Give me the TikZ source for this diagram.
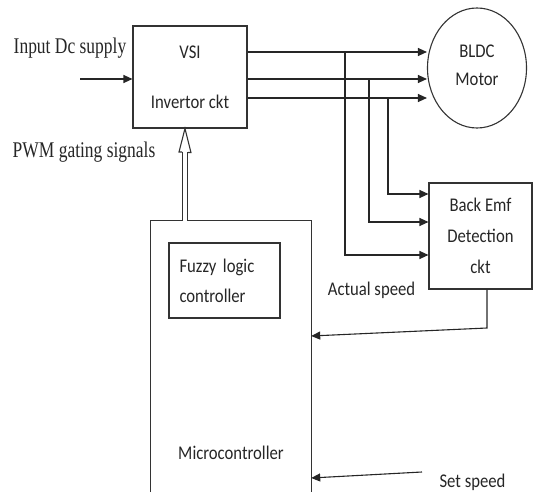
\documentclass[tikz,border=0pt]{standalone}
\usepackage{fontspec}
\setmainfont[FakeStretch=0.78]{Liberation Serif}
\newfontfamily\carlito[FakeStretch=0.86]{Carlito}
\usetikzlibrary{arrows.meta,shapes.geometric,calc}

\begin{document}
\begin{tikzpicture}[
  x=1pt,y=-1pt,
  every node/.style={font=\carlito\fontsize{19.4}{20}\selectfont,align=center,inner sep=0pt,text=black!85},
  frame/.style={draw=black!80,line width=1.1pt},
  blk/.style={frame,rectangle},
  disc/.style={frame,ellipse},
  lbl/.style={font=\fontsize{22.4}{24}\selectfont,anchor=base},
  arr/.style={-{Triangle[length=9pt,width=8pt]},line width=1.1pt,draw=black!85}
]
\useasboundingbox (0,0) rectangle (533,502);

% blocks
\node[blk,minimum width=114,minimum height=102] (vsi) at (190,77) {VSI\\[30pt]Invertor ckt};
\node[disc,minimum width=99,minimum height=120] (motor) at (477,68)
  {\raisebox{5pt}{\begin{tabular}{@{}c@{}}BLDC\\[8pt]Motor\end{tabular}}};
\node[blk,minimum width=103,minimum height=106] (emf) at (480.5,236) {Back Emf\\[11pt]Detection\\[11pt]ckt};
\node[blk,minimum width=111,minimum height=75,text width=90pt,align=left] (fuzzy) at (224.5,280.5) {Fuzzy logic\\[10pt]controller};
\node[minimum width=160,minimum height=271] (mc) at (231,356.5) {};
\draw[frame] (mc.south west) -- (mc.north west) -- (mc.north east) -- (mc.south east);
\node[anchor=base] (mctext) at (231,460) {Microcontroller};

% labels
\node[lbl] (dclbl) at (70,54) {Input Dc supply};
\node[lbl] (pwmlbl) at (84,158) {PWM gating signals};
\node[anchor=base] (actual) at (371.5,296) {Actual speed};
\node[anchor=base] (setsp) at (472.5,488) {Set speed};

% supply in
\coordinate (dcsrc) at (80,79);
\draw[arr] (dcsrc) -- (dcsrc -| vsi.west);

% three phases to motor and back emf
\coordinate (pa) at (345,52);
\coordinate (pb) at (369,79);
\coordinate (pc) at (388,98);
\draw[arr] (vsi.east |- pa) -- (motor.west |- pa);
\draw[arr] (vsi.east |- pb) -- (motor.west |- pb);
\draw[arr] (vsi.east |- pc) -- (motor.west |- pc);
\draw[arr] (pa) |- (emf.west |- 0,255);
\draw[arr] (pb) |- (emf.west |- 0,222);
\draw[arr] (pc) |- (emf.west |- 0,194);

% speed feedback and set point
\coordinate (fb) at (487,328);
\draw[arr] (emf.south -| fb) -- (fb) -- (mc.east |- 0,336);
\coordinate (sp) at (422,472);
\draw[arr] (sp) -- (mc.east |- 0,478);

% gating signals
\coordinate (gate) at (185,152);
\draw[frame,double distance=4pt] (mc.north -| gate) -- (gate);
\draw[frame] ($(gate)+(-3,0)$) -- ++(-3,0) -- (vsi.south -| gate) -- ++(6,24) -- ++(-3,0);
\end{tikzpicture}
\end{document}
